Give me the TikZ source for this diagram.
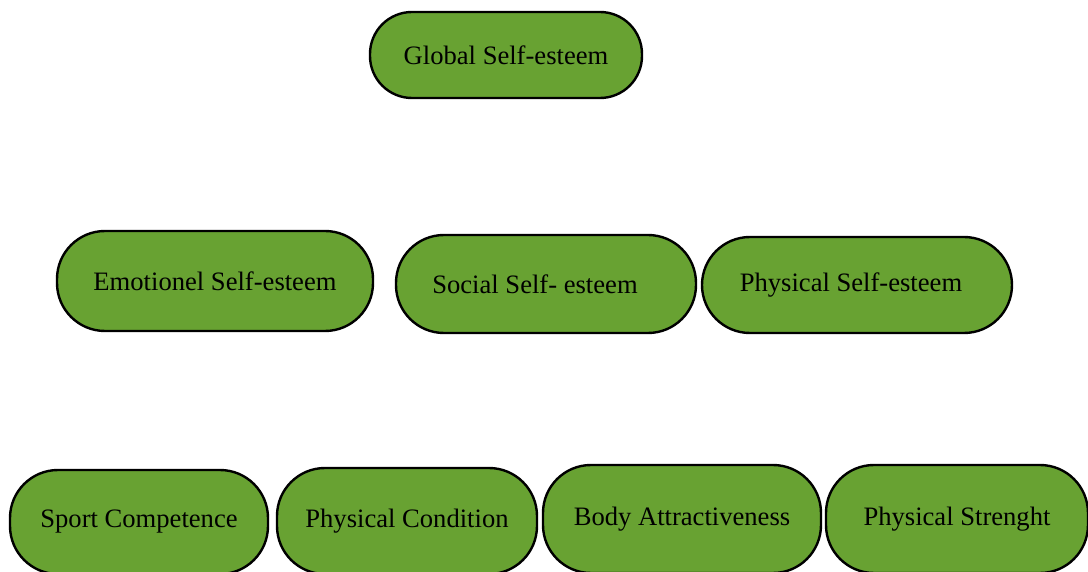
\documentclass[tikz,border=0pt]{standalone}
\usepackage{fontspec}
\setmainfont{Liberation Serif}
\usepackage{tikz}
\definecolor{leaf}{HTML}{68A232}

\begin{document}
\begin{tikzpicture}[x=0.5pt,y=-0.5pt,
 oval/.style={draw=black, line width=1.2pt, fill=leaf, rounded corners=24pt,
   inner sep=0pt, font=\fontsize{13.3}{16}\selectfont}]
 \useasboundingbox (0,0) rectangle (1088,572); % frame 1088x572

 \node (global) at (506,55) [oval, rounded corners=21pt, minimum width=136pt, minimum height=43pt] {Global Self-esteem}; % top

 \node (emotional) at (215,281) [oval, minimum width=158pt, minimum height=50pt] {Emotionel Self-esteem};
 \node (social) at (546,284) [oval, minimum width=150pt, minimum height=49pt] {Social Self- esteem\kern11pt};
 \node (physical) at (857,285) [oval, minimum width=155pt, minimum height=48pt] {Physical Self-esteem\kern6pt};

 \node (sport) at (139,522) [oval, minimum width=129pt, minimum height=52pt] {Sport Competence}; % bottom row
 \node (condition) at (407,521) [oval, minimum width=130pt, minimum height=53pt] {Physical Condition};
 \node (body) at (682,519) [oval, minimum width=139pt, minimum height=54pt] {Body Attractiveness};
 \node (strength) at (957,519) [oval, minimum width=131pt, minimum height=54pt] {Physical Strenght};
\end{tikzpicture}
\end{document}
